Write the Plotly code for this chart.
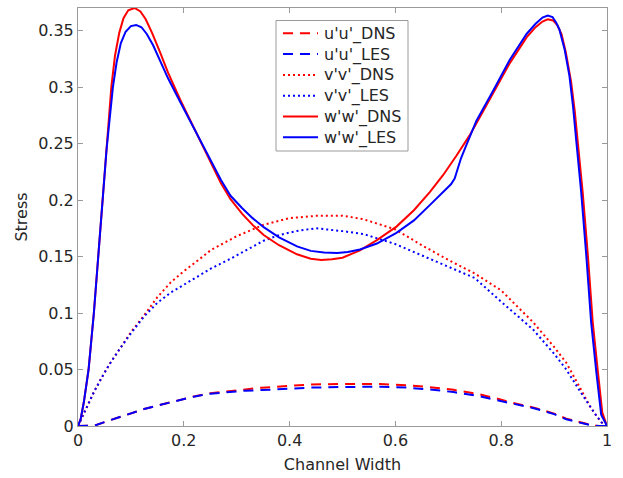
import plotly.graph_objects as go

# ---------------- data ----------------
x_ww_dns = [0, 0.005, 0.011, 0.02, 0.03, 0.038, 0.046, 0.053, 0.063, 0.07, 0.078, 0.086, 0.095, 0.107,
            0.118, 0.128, 0.14, 0.155, 0.17, 0.193, 0.212, 0.231, 0.256, 0.27, 0.288, 0.31, 0.33, 0.351,
            0.38, 0.414, 0.44, 0.46, 0.48, 0.5, 0.533, 0.565, 0.602, 0.635, 0.665, 0.69, 0.715, 0.74,
            0.765, 0.785, 0.816, 0.848, 0.865, 0.878, 0.888, 0.898, 0.906, 0.914, 0.922, 0.932, 0.939,
            0.945, 0.954, 0.964, 0.973, 0.983, 0.991, 1.0]
y_ww_dns = [0, 0.006, 0.021, 0.05, 0.10, 0.15, 0.20, 0.245, 0.30, 0.328, 0.348, 0.361, 0.368, 0.370,
            0.367, 0.360, 0.348, 0.331, 0.313, 0.289, 0.271, 0.253, 0.228, 0.215, 0.201, 0.188, 0.178, 0.169,
            0.160, 0.152, 0.148, 0.147, 0.1475, 0.149, 0.1555, 0.1645, 0.1765, 0.191, 0.207, 0.222, 0.239, 0.257,
            0.278, 0.295, 0.321, 0.344, 0.353, 0.358, 0.360, 0.359, 0.355, 0.347, 0.331, 0.305, 0.279,
            0.25, 0.207, 0.15, 0.092, 0.047, 0.012, 0]

x_ww_les = [0, 0.005, 0.011, 0.02, 0.03, 0.038, 0.046, 0.054, 0.066, 0.073, 0.081, 0.09, 0.1, 0.11,
            0.12, 0.13, 0.142, 0.155, 0.17, 0.193, 0.212, 0.231, 0.256, 0.27, 0.288, 0.31, 0.33, 0.351,
            0.38, 0.414, 0.44, 0.465, 0.49, 0.51, 0.533, 0.565, 0.602, 0.635, 0.665, 0.69, 0.705, 0.712,
            0.718, 0.724, 0.731, 0.753, 0.785, 0.816, 0.848, 0.865, 0.878, 0.888, 0.897, 0.904, 0.91,
            0.92, 0.929, 0.936, 0.942, 0.951, 0.961, 0.970, 0.980, 0.989, 1.0]
y_ww_les = [0, 0.006, 0.021, 0.05, 0.10, 0.15, 0.20, 0.245, 0.30, 0.322, 0.339, 0.349, 0.354, 0.355,
            0.353, 0.347, 0.337, 0.323, 0.308, 0.287, 0.27, 0.253, 0.23, 0.218, 0.204, 0.193, 0.184, 0.176,
            0.167, 0.159, 0.155, 0.1535, 0.1532, 0.154, 0.1562, 0.1615, 0.171, 0.182, 0.1955, 0.207, 0.214, 0.219,
            0.228, 0.237, 0.245, 0.27, 0.297, 0.324, 0.347, 0.356, 0.3615, 0.3633, 0.362, 0.357, 0.351,
            0.333, 0.31, 0.282, 0.252, 0.208, 0.15, 0.092, 0.047, 0.01, 0]

x_vv_dns = [0, 0.01, 0.02, 0.03, 0.045, 0.06, 0.08, 0.1, 0.125, 0.15, 0.175, 0.2, 0.225, 0.252, 0.3, 0.35,
            0.4, 0.45, 0.5, 0.54, 0.6, 0.65, 0.7, 0.75, 0.8, 0.86, 0.9, 0.923, 0.95, 0.967, 0.98, 0.99, 1.0]
y_vv_dns = [0, 0.01, 0.02, 0.03, 0.043, 0.055, 0.069, 0.083, 0.098, 0.114, 0.127, 0.137, 0.146, 0.156, 0.168, 0.178,
            0.184, 0.186, 0.1862, 0.183, 0.174, 0.16, 0.147, 0.135, 0.12, 0.092, 0.070, 0.056, 0.033, 0.018,
            0.009, 0.003, 0]

x_vv_les = [0, 0.01, 0.02, 0.03, 0.045, 0.06, 0.08, 0.1, 0.125, 0.15, 0.175, 0.2, 0.225, 0.25, 0.288, 0.32,
            0.351, 0.38, 0.414, 0.45, 0.476, 0.5, 0.539, 0.6, 0.65, 0.7, 0.728, 0.75, 0.8, 0.86, 0.9, 0.923,
            0.95, 0.967, 0.98, 0.99, 1.0]
y_vv_les = [0, 0.01, 0.02, 0.03, 0.043, 0.055, 0.069, 0.082, 0.097, 0.109, 0.118, 0.125, 0.132, 0.139, 0.148, 0.156,
            0.164, 0.169, 0.1727, 0.175, 0.174, 0.1725, 0.17, 0.161, 0.151, 0.141, 0.136, 0.131, 0.11, 0.0855,
            0.064, 0.050, 0.03, 0.0176, 0.009, 0.003, 0]

x_uu = [0, 0.032, 0.06, 0.095, 0.125, 0.158, 0.19, 0.221, 0.25, 0.284, 0.315, 0.347, 0.4, 0.441, 0.5, 0.571,
        0.62, 0.665, 0.71, 0.759, 0.79, 0.822, 0.86, 0.9, 0.923, 0.95, 0.973, 0.985, 1.0]
y_uu_dns = [0, 0.0005, 0.005, 0.0102, 0.015, 0.019, 0.023, 0.0264, 0.029, 0.0309, 0.0326, 0.0339, 0.0355,
            0.0368, 0.0372, 0.0372, 0.036, 0.0344, 0.032, 0.028, 0.0245, 0.0205, 0.0165, 0.011, 0.0065, 0.003,
            0.0005, 0, 0]
y_uu_les = [0, 0.0005, 0.005, 0.0102, 0.015, 0.019, 0.0228, 0.0262, 0.0285, 0.0302, 0.0312, 0.0318, 0.033,
            0.034, 0.0345, 0.0348, 0.034, 0.0324, 0.030, 0.0264, 0.023, 0.0195, 0.016, 0.0105, 0.006, 0.0028,
            0.0004, 0, 0]

x_ticks = [0, 0.2, 0.4, 0.6, 0.8, 1]
x_ticklabels = ["0", "0.2", "0.4", "0.6", "0.8", "1"]
y_ticks = [0, 0.05, 0.1, 0.15, 0.2, 0.25, 0.3, 0.35]
y_ticklabels = ["0", "0.05", "0.1", "0.15", "0.2", "0.25", "0.3", "0.35"]

# ---------------- figure ----------------
RED = "#ff0000"
BLUE = "#0000ff"
TXT = "#262626"
AX = "#9a9a9a"
FONT = "DejaVu Sans"
DASHED = "10px,7px"
DOTTED = "2px,3px"

series = [
    ("u'u'_DNS", x_uu, y_uu_dns, RED, DASHED),
    ("u'u'_LES", x_uu, y_uu_les, BLUE, DASHED),
    ("v'v'_DNS", x_vv_dns, y_vv_dns, RED, DOTTED),
    ("v'v'_LES", x_vv_les, y_vv_les, BLUE, DOTTED),
    ("w'w'_DNS", x_ww_dns, y_ww_dns, RED, "solid"),
    ("w'w'_LES", x_ww_les, y_ww_les, BLUE, "solid"),
]

W, H = 623, 478
ML, MR, MT, MB = 78, 16, 8, 52
PW, PH = W - ML - MR, H - MT - MB


def px(xp):
    return (xp - ML) / PW


def py(yp):
    return (H - MB - yp) / PH


fig = go.Figure()
for name, xs, ys, col, dash in series:
    fig.add_trace(go.Scatter(x=xs, y=ys, name=name, mode="lines", showlegend=False,
                             line=dict(color=col, width=2, dash=dash)))

# legend box drawn as shapes + text (matches MATLAB-style compact legend)
shapes = [dict(type="rect", xref="paper", yref="paper", x0=px(276), x1=px(408), y0=py(151), y1=py(20.5),
               fillcolor="white", line=dict(color=AX, width=1), layer="above")]
annotations = []
for i, (name, xs, ys, col, dash) in enumerate(series):
    yc = 33.3 + i * 20.8
    shapes.append(dict(type="line", xref="paper", yref="paper", x0=px(283), x1=px(318), y0=py(yc), y1=py(yc),
                       line=dict(color=col, width=2, dash=dash), layer="above"))
    annotations.append(dict(text=name, xref="paper", yref="paper", x=px(322), y=py(yc + 0.5),
                            xanchor="left", yanchor="middle", showarrow=False,
                            font=dict(family=FONT, size=16, color=TXT)))

axis_common = dict(showline=True, linecolor=AX, linewidth=1, mirror="ticks", ticks="inside",
                   ticklen=5, tickcolor=AX, showgrid=False, zeroline=False,
                   tickfont=dict(family=FONT, size=16, color=TXT))

fig.update_layout(
    width=W, height=H,
    margin=dict(l=ML, r=MR, t=MT, b=MB),
    paper_bgcolor="white", plot_bgcolor="white",
    font=dict(family=FONT, size=16, color=TXT),
    xaxis=dict(range=[0, 1], tickvals=x_ticks, ticktext=x_ticklabels,
               title=dict(text="Channel Width", font=dict(family=FONT, size=16, color=TXT), standoff=9),
               **axis_common),
    yaxis=dict(range=[0, 0.37], tickvals=y_ticks, ticktext=y_ticklabels,
               title=dict(text="Stress", font=dict(family=FONT, size=16, color=TXT), standoff=6),
               **axis_common),
    shapes=shapes,
    annotations=annotations,
    showlegend=False,
)

fig.write_html("out.html")
